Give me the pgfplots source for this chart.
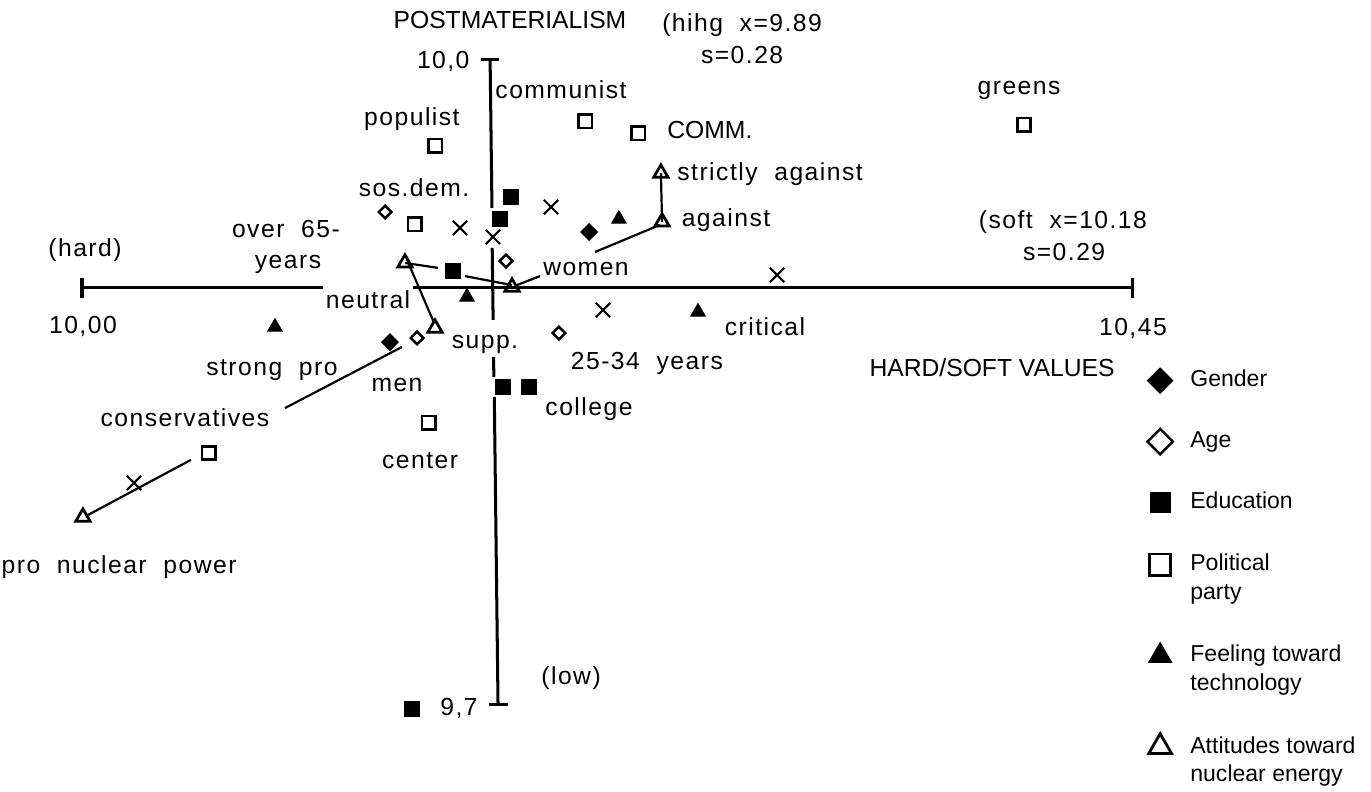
\documentclass[border=0pt]{standalone}
\usepackage{pgfplots}
\pgfplotsset{compat=1.18}
\usepackage{fontspec}
\setmainfont{Liberation Sans}
\newfontfamily\lab[LetterSpace=6]{Liberation Sans}
\pgfplotsset{
  oneline/.style={legend image code/.code={\path (0cm,-5pt) (0.51cm,5pt); \draw[mark repeat=2,mark phase=2,##1] plot coordinates {(0cm,0cm) (0.2cm,0cm) (0.51cm,0cm)};}},
  twoline/.style={legend image code/.code={\path (0cm,-11pt) (0.51cm,11pt); \draw[mark repeat=2,mark phase=2,##1] plot coordinates {(0cm,5.1pt) (0.2cm,5.1pt) (0.51cm,5.1pt)};}},
}
\begin{document}
\begin{tikzpicture}[
  lbl/.style={font=\lab\fontsize{9}{11}\selectfont, inner sep=0pt, text height=6.3pt, text depth=0pt},
  capl/.style={font=\fontsize{9}{11}\selectfont, inner sep=0pt, text height=6.3pt, text depth=0pt}]
\begin{axis}[
  scale only axis, width=500pt, height=288.1pt,
  xmin=9.96486, xmax=10.55243, ymin=9.66047, ymax=10.02791,
  axis lines=none, clip=false,
  legend style={draw=none, fill=none, at={(axis cs:10.4549,9.8585)}, anchor=north west,
    font=\fontsize{8.4}{10.3}\selectfont, row sep=10.8pt, inner sep=0pt,
    cells={anchor=west, align=left}},
]
\path (rel axis cs:0,0) rectangle (rel axis cs:1,1);
% ---- cross-shaped axes ----
\addplot[black, line width=1.1pt, forget plot] coordinates {(10.0000,9.8940) (10.1033,9.8940)};
\addplot[black, line width=1.1pt, forget plot] coordinates {(10.1419,9.8940) (10.4500,9.8940)};
\addplot[black, line width=1.1pt, forget plot] coordinates {(10.0000,9.8893) (10.0000,9.8987)};
\addplot[black, line width=1.1pt, forget plot] coordinates {(10.4500,9.8893) (10.4500,9.8987)};
\addplot[black, line width=1.1pt, forget plot] coordinates {(10.1749,10.0000) (10.1757,9.9312)};
\addplot[black, line width=1.1pt, forget plot] coordinates {(10.1758,9.9126) (10.1762,9.8791)};
\addplot[black, line width=1.1pt, forget plot] coordinates {(10.1764,9.8619) (10.1765,9.8526)};
\addplot[black, line width=1.1pt, forget plot] coordinates {(10.1767,9.8433) (10.1783,9.7000)};
\addplot[black, line width=1.1pt, forget plot] coordinates {(10.1710,10.0000) (10.1788,10.0000)};
\addplot[black, line width=1.1pt, forget plot] coordinates {(10.1744,9.7000) (10.1826,9.7000)};
% ---- connecting lines ----
\addplot[black, line width=0.8pt, forget plot] coordinates {(10.0026,9.7884) (10.0467,9.8140)};
\addplot[black, line width=0.8pt, forget plot] coordinates {(10.0870,9.8381) (10.1371,9.8665)};
\addplot[black, line width=0.8pt, forget plot] coordinates {(10.1384,9.9056) (10.1526,9.9033)};
\addplot[black, line width=0.8pt, forget plot] coordinates {(10.1641,9.8995) (10.1843,9.8953)};
\addplot[black, line width=0.8pt, forget plot] coordinates {(10.1864,9.8953) (10.1963,9.8995)};
\addplot[black, line width=0.8pt, forget plot] coordinates {(10.1393,9.9070) (10.1509,9.8777)};
\addplot[black, line width=0.8pt, forget plot] coordinates {(10.2199,9.9107) (10.2477,9.9233)};
\addplot[black, line width=0.8pt, forget plot] coordinates {(10.2481,9.9474) (10.2486,9.9247)};
% ---- crosses (no legend entry) ----
\addplot[black, only marks, mark=x, mark size=3.7pt, mark options={line width=0.75pt}, forget plot] coordinates {
 (10.1620,9.9219) (10.1761,9.9177) (10.2010,9.9316) (10.2979,9.9000) (10.2233,9.8837) (10.0223,9.8033)};
% ---- series ----
\addplot[black, only marks, mark=diamond*, mark size=3pt, mark options={xscale=1.33, fill=black},
  oneline, legend image post style={mark size=4.6pt}] coordinates {(10.2173,9.9200) (10.1320,9.8688)};
\addlegendentry{Gender}
\addplot[black, only marks, mark=diamond, mark size=2.3pt, mark options={xscale=1.33, line width=0.9pt},
  oneline, legend image post style={mark size=4.6pt}] coordinates {(10.1299,9.9293) (10.1817,9.9065) (10.1436,9.8707) (10.2044,9.8730)};
\addlegendentry{Age}
\addplot[black, only marks, mark=square*, mark size=2.8pt, mark options={fill=black},
  oneline, legend image post style={mark size=3.6pt}] coordinates {(10.1839,9.9363) (10.1791,9.9260) (10.1590,9.9019) (10.1804,9.8479) (10.1916,9.8479) (10.1414,9.6981)};
\addlegendentry{Education}
\addplot[black, only marks, mark=square, mark size=2.5pt, mark options={line width=1pt},
  twoline, legend image post style={mark size=3.9pt}]
  coordinates {(10.1513,9.9600) (10.1427,9.9237) (10.2156,9.9716) (10.2383,9.9660) (10.4037,9.9698) (10.1487,9.8312) (10.0544,9.8172)};
\addlegendentry{Political\\party}
\addplot[black, only marks, mark=triangle*, mark size=3pt, mark options={fill=black},
  twoline, legend image post style={mark size=4.8pt}]
  coordinates {(10.2301,9.9260) (10.1650,9.8898) (10.0827,9.8758) (10.2640,9.8828)};
\addlegendentry{Feeling toward\\technology}
\addplot[black, only marks, mark=triangle, mark size=3pt, mark options={line width=1pt},
  twoline, legend image post style={mark size=4.8pt}]
  coordinates {(10.2481,9.9474) (10.2486,9.9247) (10.1843,9.8944) (10.1384,9.9056) (10.1513,9.8753) (10.0004,9.7874)};
\addlegendentry{Attitudes toward\\nuclear energy}
% ---- labels ----
\node[capl] at (axis cs:10.1834,10.0186) {POSTMATERIALISM};
\node[lbl] at (axis cs:10.2829,10.0172) {(hihg\ \ x=9.89};
\node[lbl] at (axis cs:10.2829,10.0023) {s=0.28};
\node[lbl, anchor=east] at (axis cs:10.1663,10.0000) {10,0};
\node[lbl] at (axis cs:10.2053,9.9860) {communist};
\node[capl] at (axis cs:10.2691,9.9674) {COMM.};
\node[lbl] at (axis cs:10.1414,9.9735) {populist};
\node[lbl] at (axis cs:10.1423,9.9405) {sos.dem.};
\node[lbl] at (axis cs:10.2949,9.9479) {strictly\ \ against};
\node[lbl] at (axis cs:10.2760,9.9265) {against};
\node[lbl] at (axis cs:10.4016,9.9879) {greens};
\node[lbl] at (axis cs:10.4204,9.9256) {(soft\ \ x=10.18};
\node[lbl] at (axis cs:10.4209,9.9107) {s=0.29};
\node[lbl] at (axis cs:10.0013,9.9126) {(hard)};
\node[lbl] at (axis cs:10.0004,9.8767) {10,00};
\node[lbl] at (axis cs:10.4504,9.8758) {10,45};
\node[lbl] at (axis cs:10.0874,9.9214) {over\ \ 65-};
\node[lbl] at (axis cs:10.0883,9.9070) {years};
\node[lbl] at (axis cs:10.1226,9.8884) {neutral};
\node[lbl] at (axis cs:10.2160,9.9037) {women};
\node[lbl] at (axis cs:10.1727,9.8698) {supp.};
\node[lbl] at (axis cs:10.2927,9.8758) {critical};
\node[lbl] at (axis cs:10.2421,9.8600) {25-34\ \ years};
\node[capl] at (axis cs:10.3900,9.8567) {HARD/SOFT VALUES};
\node[lbl] at (axis cs:10.0814,9.8572) {strong\ \ pro};
\node[lbl] at (axis cs:10.1350,9.8498) {men};
\node[lbl] at (axis cs:10.2173,9.8386) {college};
\node[lbl] at (axis cs:10.0441,9.8335) {conservatives};
\node[lbl] at (axis cs:10.1449,9.8140) {center};
\node[lbl] at (axis cs:10.0159,9.7651) {pro\ \ nuclear\ \ power};
\node[lbl] at (axis cs:10.2096,9.7135) {(low)};
\node[lbl] at (axis cs:10.1616,9.6991) {9,7};
\end{axis}
\end{tikzpicture}
\end{document}
